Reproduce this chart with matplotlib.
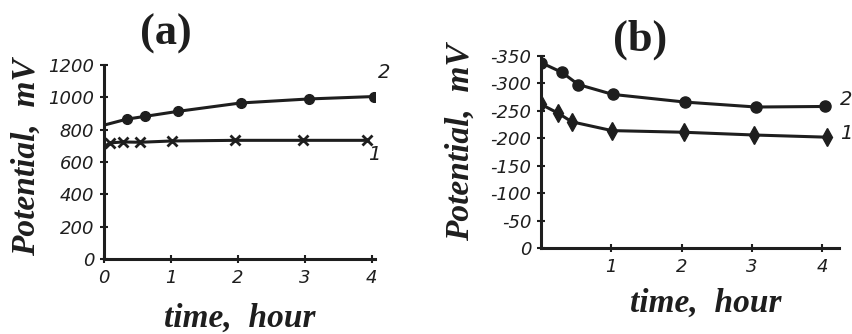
import matplotlib
matplotlib.use("Agg")
import matplotlib.pyplot as plt

plt.rcParams["axes.unicode_minus"] = False

# panel (a): potential, mV vs time, hour
t_a2 = [0, 0.34, 0.61, 1.1, 2.04, 3.06, 4.04]
v_a2 = [828, 865, 882, 913, 965, 990, 1005]
t_a1 = [0, 0.09, 0.28, 0.54, 1.01, 1.96, 2.97, 3.93]
v_a1 = [695, 718, 724, 722, 730, 734, 734, 734]

# panel (b)
t_b2 = [0, 0.3, 0.53, 1.02, 2.05, 3.06, 4.04]
v_b2 = [-338, -320, -298, -280, -266, -257, -258]
t_b1 = [0, 0.24, 0.44, 1.01, 2.03, 3.03, 4.07]
v_b1 = [-262, -246, -230, -214, -211, -206, -202]

yticks_a = [0, 200, 400, 600, 800, 1000, 1200]
xticks_a = [0, 1, 2, 3, 4]
yticks_b = [0, -50, -100, -150, -200, -250, -300, -350]
xticks_b = [1, 2, 3, 4]

W, H = 852, 334
INK = "#1e1e1e"
fig = plt.figure(figsize=(W / 100, H / 100), dpi=100)


def px(x, y):
    return x / W, 1 - y / H


def style(ax):
    for s in ["top", "right"]:
        ax.spines[s].set_visible(False)
    for s in ["left", "bottom"]:
        ax.spines[s].set_linewidth(2.2)
        ax.spines[s].set_color(INK)
    ax.tick_params(direction="inout", length=6, width=1.5, color=INK,
                   labelsize=13, labelcolor=INK, pad=4)
    for lab in ax.get_xticklabels() + ax.get_yticklabels():
        lab.set_fontstyle("italic")
    ax.patch.set_alpha(0)


# (a)
ax1 = fig.add_axes([104 / W, 1 - 259 / H, 271 / W, 194 / H])
ax1.plot(t_a2, v_a2, color=INK, lw=2.2, marker="o", ms=7, markevery=slice(1, None))
ax1.plot(t_a1, v_a1, color=INK, lw=2.2, marker="x", ms=7, mew=2, markevery=slice(1, None))
ax1.set_xlim(0, 4.05)
ax1.set_ylim(0, 1200)
ax1.set_xticks(xticks_a)
ax1.set_yticks(yticks_a)
ax1.tick_params(axis="x", pad=10)
style(ax1)

# (b)
ax2 = fig.add_axes([541 / W, 1 - 248 / H, 298 / W, 192 / H])
ax2.plot(t_b2, v_b2, color=INK, lw=2.2, marker="o", ms=8)
ax2.plot(t_b1, v_b1, color=INK, lw=2.2, marker="d", ms=9)
ax2.set_xlim(0, 4.24)
ax2.set_ylim(0, -350)
ax2.set_xticks(xticks_b)
ax2.set_yticks(yticks_b)
ax2.tick_params(axis="x", pad=8)
ax2.tick_params(axis="y", pad=8)
style(ax2)

# curve numbers
for (x, y, s) in [(384, 72, "2"), (374, 155, "1"), (846, 100, "2"), (846, 134, "1")]:
    fig.text(*px(x, y), s, fontsize=14, fontstyle="italic", color=INK,
             ha="center", va="center")

# panel titles
title_kw = dict(fontsize=32, fontweight="bold", family="Liberation Serif",
                color=INK, ha="center", va="center")
fig.text(*px(166, 34), "(a)", **title_kw)
fig.text(*px(640, 40), "(b)", **title_kw)

# axis labels
lab_kw = dict(fontsize=24, fontweight="bold", fontstyle="italic",
              family="Liberation Serif", color=INK, ha="center", va="center")
fig.text(*px(26, 157), "Potential,  mV", rotation=90, **lab_kw)
fig.text(*px(460, 142), "Potential,  mV", rotation=90, **lab_kw)
fig.text(*px(240, 318), "time,  hour", **lab_kw)
fig.text(*px(706, 303), "time,  hour", **lab_kw)

fig.savefig("out.png", dpi=100, facecolor="white")
